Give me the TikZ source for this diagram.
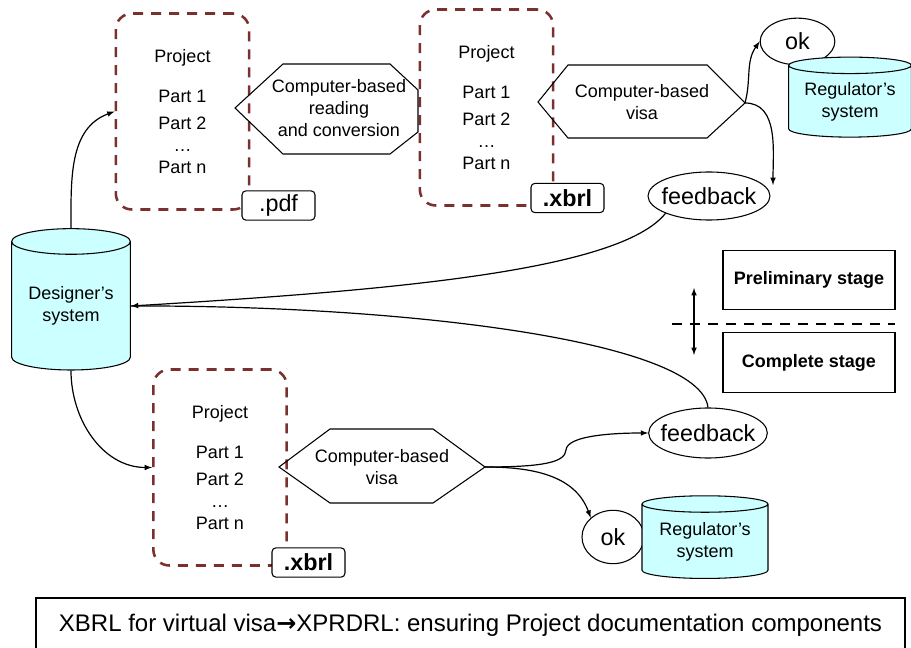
\documentclass[tikz,border=0pt]{standalone}
\usepackage{fontspec}
\setmainfont{Liberation Sans}
\newfontfamily\arrowfont{DejaVu Sans}
\usetikzlibrary{shapes.geometric}

\definecolor{projred}{RGB}{122,48,46}
\definecolor{dbcyan}{RGB}{204,255,255}

\tikzset{
  projbox/.style={draw=projred, line width=1.9pt, dash pattern=on 7.5pt off 6pt,
    rounded corners=12pt, align=center, minimum width=100pt, minimum height=147pt,
    font=\fontsize{13.5}{20}\selectfont},
  tagbox/.style={draw, fill=white, rounded corners=3pt, line width=0.8pt,
    minimum width=54.75pt, minimum height=22pt, inner sep=0pt,
    font=\fontsize{17.5}{20}\selectfont},
  hexline/.style={draw, line width=0.8pt},
  hextext/.style={align=center, font=\fontsize{13.5}{16.5}\selectfont},
  oval/.style={draw, ellipse, line width=0.8pt, inner xsep=-5pt, inner ysep=0pt,
    fill=white, font=\fontsize{17.5}{20}\selectfont},
  dbase/.style={draw, cylinder, shape border rotate=90, fill=dbcyan, line width=0.8pt,
    align=center, inner sep=0pt, font=\fontsize{13.5}{16.5}\selectfont},
  stagebox/.style={draw, line width=0.8pt, minimum width=129pt, minimum height=44.5pt,
    font=\bfseries\fontsize{13.5}{16}\selectfont},
  flow/.style={-latex, line width=0.9pt},
}

\begin{document}
\begin{tikzpicture}[x=0.75pt, y=-0.75pt]
  \useasboundingbox (0,0) rectangle (911,648);

  % project documents
  \node[projbox] (projA) at (182.5,111.5) {Project\\[10pt]Part 1\\Part 2\\[-3.5pt]…\\[-3.5pt]Part n};
  \node[projbox] (projB) at (486.5,107.5) {Project\\[10pt]Part 1\\Part 2\\[-3.5pt]…\\[-3.5pt]Part n};
  \node[projbox] (projC) at (220,467.5) {Project\\[10pt]Part 1\\Part 2\\[-3.5pt]…\\[-3.5pt]Part n};

  \node[tagbox] (pdf) at (278.5,205.5) {.pdf};
  \node[tagbox, font=\bfseries\fontsize{17.5}{20}\selectfont] (xbrlA) at (567.5,198) {.xbrl};
  \node[tagbox, font=\bfseries\fontsize{17.5}{20}\selectfont] (xbrlC) at (308.5,562.5) {.xbrl};

  % processing steps
  \draw[hexline] (235,108) -- (283,64) -- (390,64) -- (418,90) -- (418,132)
    -- (390,154) -- (283,154) -- cycle;
  \node[hextext] (convert) at (339,108) {Computer-based\\reading\\and conversion};

  \draw[hexline] (538,102) -- (568,65) -- (707,65) -- (745,103) -- (707,138)
    -- (568,138) -- cycle;
  \node[hextext, font=\fontsize{13.5}{17}\selectfont] (visaA) at (642,102) {Computer-based\\visa};
  \coordinate (visaAtip) at (745,103);

  \draw[hexline] (279,467) -- (330,429) -- (433,429) -- (485,467) -- (433,503)
    -- (330,503) -- cycle;
  \node[hextext] (visaC) at (382,467) {Computer-based\\visa};
  \coordinate (visaCtip) at (485,467);

  % systems and answers
  \node[dbase, minimum width=89pt, minimum height=106pt, aspect=0.3] (designer) at (71,306) {Designer's\\system};

  \node[oval, minimum width=56pt, minimum height=35pt] (okA) at (797.5,41.5) {ok};
  \node[dbase, minimum width=92pt, minimum height=60pt, aspect=0.18] (regA) at (850,101.5) {Regulator's\\system};
  \node[oval, minimum width=91.5pt, minimum height=36pt] (feedA) at (709,196) {feedback};
  \coordinate (feedAin) at (773,185);

  \node[oval, minimum width=89pt, minimum height=37.5pt] (feedC) at (708,433) {feedback};
  \node[oval, minimum width=46.5pt, minimum height=40pt] (okC) at (613,537) {ok};
  \node[dbase, minimum width=94.5pt, minimum height=62pt, aspect=0.18] (regC) at (705,541.5) {Regulator's\\system};

  % stages
  \node[stagebox] (prelim) at (809,280) {Preliminary stage};
  \node[stagebox] (complete) at (809,362.5) {Complete stage};
  \coordinate (cutL) at (672,324);
  \coordinate (cutR) at (895,324);
  \draw[line width=2.2pt, dash pattern=on 7.5pt off 6pt] (cutL) -- (cutR);
  \coordinate (stUp) at (694,288);
  \coordinate (stDown) at (694,355);
  \draw[latex-latex, line width=0.9pt] (stUp) -- (stDown);

  % flows
  \draw[flow] (designer.north) to[out=90, in=200] (projA.west);
  \draw[flow] (designer.south) to[out=-90, in=180] (projC.west);
  \draw[flow] (visaAtip) to[out=75, in=235] (okA.west);
  \draw[flow] (visaAtip) to[out=0, in=90] (feedAin);
  \draw[flow] (feedA.south west) .. controls (620,270) and (400,290) .. (designer.east);
  \draw[line width=0.9pt] (feedC.north) .. controls (700,340) and (400,305) .. (designer.east);
  \draw[flow] (visaCtip) .. controls (545,467) and (565,462) .. (566,450)
    .. controls (567,436) and (610,433) .. (feedC.west);
  \draw[flow] (visaCtip) to[out=0, in=110] (okC.north west);

  % caption
  \node[draw, line width=0.8pt, minimum width=651.75pt, minimum height=40.5pt,
    font=\fontsize{18}{20}\selectfont] (caption) at (470.5,625)
    {XBRL for virtual visa{\arrowfont\bfseries →}XPRDRL: ensuring Project documentation components};
\end{tikzpicture}
\end{document}
